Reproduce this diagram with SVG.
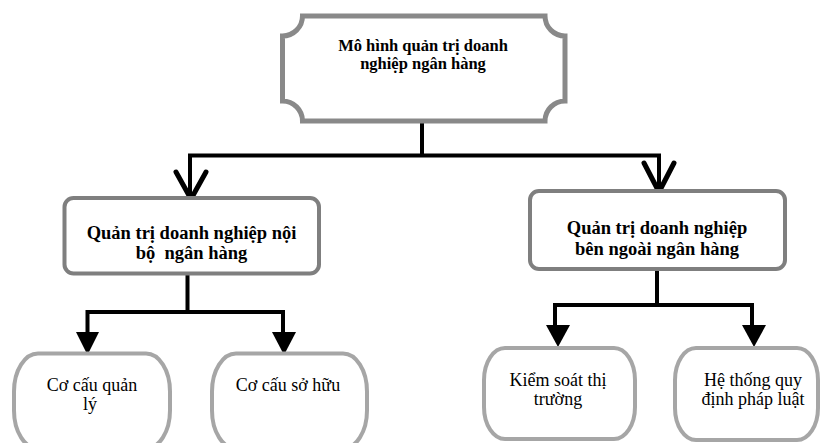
<svg xmlns="http://www.w3.org/2000/svg" width="821" height="443" viewBox="0 0 821 443">
<style>
.bg{fill:#ffffff}
.top{fill:#ffffff;stroke:#898989;stroke-width:5}
.mid{fill:#ffffff;stroke:#7f7f7f;stroke-width:4}
.leaf{fill:#ffffff;stroke:#a6a6a6;stroke-width:4}
text{font-family:'Liberation Serif','Times New Roman','DejaVu Serif',serif;fill:#000;text-anchor:middle}
.tb{font-weight:bold}
.tr{font-size:18px}
.line{fill:none;stroke:#000;stroke-width:4;stroke-linejoin:miter}
.chev{fill:none;stroke:#000;stroke-width:5;stroke-linecap:round;stroke-linejoin:round}
.tri{fill:#000;stroke:none}
</style>
<rect class="bg" x="0" y="0" width="821" height="443"/>

<g id="connectors">
  <path class="line" d="M422,121 V155.5 M190,155.5 H659 M190,153.5 V198 M659,153.5 V191"/>
  <path class="chev" d="M176,172 L191,199 L206,172"/>
  <path class="chev" d="M644,163 L659,192 L674,163"/>
  <path class="line" d="M187.5,273 V312 M85.5,312 H285 M87.5,310 V334 M283,310 V334"/>
  <polygon class="tri" points="76,332 99,332 87.5,355"/>
  <polygon class="tri" points="272,332 296,332 284,355"/>
  <path class="line" d="M657,269 V305 M553,305 H754 M555,303 V327 M752,303 V327"/>
  <polygon class="tri" points="546,325 570,325 558,347"/>
  <polygon class="tri" points="742,325 766,325 754,347"/>
</g>

<g id="root">
  <path class="top" d="M302.5,16 H545 A20,20 0 0 0 565,36 V101 A20,20 0 0 0 545,121 H302.5 A20,20 0 0 0 282.5,101 V36 A20,20 0 0 0 302.5,16 Z"/>
  <text class="tb" font-size="16.5" x="423" y="51" font-family="'Liberation Serif','DejaVu Serif',serif">Mô hình quản trị doanh</text>
  <text class="tb" font-size="16.5" x="423" y="69" font-family="'Liberation Serif','DejaVu Serif',serif">nghiệp ngân hàng</text>
</g>

<g id="internal">
  <rect class="mid" x="64.5" y="198" width="254.5" height="75.5" rx="9" ry="9"/>
  <text class="tb" font-size="18.5" x="191.5" y="239">Quản trị doanh nghiệp nội</text>
  <text class="tb" font-size="18.5" x="191.5" y="259" xml:space="preserve">bộ  ngân hàng</text>
</g>

<g id="external">
  <rect class="mid" x="530" y="191" width="255" height="78" rx="9" ry="9"/>
  <text class="tb" font-size="18.5" x="657" y="234">Quản trị doanh nghiệp</text>
  <text class="tb" font-size="18.5" x="657" y="255">bên ngoài ngân hàng</text>
</g>

<g id="management">
  <rect class="leaf" x="14" y="353.5" width="156" height="95" rx="24" ry="38"/>
  <text class="tr" x="92" y="391">Cơ cấu quản</text>
  <text class="tr" x="90" y="410">lý</text>
</g>

<g id="ownership">
  <rect class="leaf" x="212" y="353.5" width="155" height="95" rx="24" ry="38"/>
  <text class="tr" x="288" y="391">Cơ cấu sở hữu</text>
</g>

<g id="market">
  <rect class="leaf" x="484" y="348" width="151" height="91" rx="21" ry="32"/>
  <text class="tr" x="558" y="386">Kiểm soát thị</text>
  <text class="tr" x="558" y="405">trường</text>
</g>

<g id="legal">
  <rect class="leaf" x="675" y="348" width="143" height="92" rx="21" ry="32"/>
  <text class="tr" x="753" y="386">Hệ thống quy</text>
  <text class="tr" x="753" y="405">định pháp luật</text>
</g>
</svg>
